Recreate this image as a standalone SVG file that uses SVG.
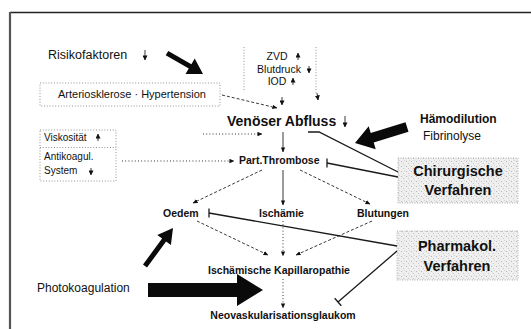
<svg xmlns="http://www.w3.org/2000/svg" width="531" height="329" viewBox="0 0 531 329">
<style>
text{font-family:"Liberation Sans",Arial,sans-serif;fill:#111}
.s10{font-size:10px}.s105{font-size:10.5px}.s11{font-size:11px}.s12{font-size:12px}
.lab{font-size:10.5px;font-weight:bold}
.big{font-size:14.5px;font-weight:bold;text-anchor:middle}
.c{text-anchor:middle}
.ln{stroke:#222;stroke-width:0.9;fill:none}
.dash{stroke-dasharray:3,2}
.dot{stroke-dasharray:1,2.2}
.inh{stroke:#1a1a1a;stroke-width:1.3;fill:none}
.box{fill:none;stroke:#777;stroke-width:0.8;stroke-dasharray:1,1.8}
.thick{fill:#0a0a0a}
.grey{fill:url(#stip);stroke:#999;stroke-width:0.8;stroke-dasharray:1,1.5}
</style>
<defs>
<marker id="ah" viewBox="0 0 6 6" refX="5.5" refY="3" markerWidth="5" markerHeight="5" markerUnits="userSpaceOnUse" orient="auto"><path d="M0,0.4 L6,3 L0,5.6 z" fill="#111"/></marker>
<marker id="ahs" viewBox="0 0 6 6" refX="5.5" refY="3" markerWidth="5" markerHeight="5" markerUnits="userSpaceOnUse" orient="auto"><path d="M0,0 L6,3 L0,6 z" fill="#111"/></marker>
<pattern id="stip" width="5" height="5" patternUnits="userSpaceOnUse"><rect width="5" height="5" fill="#efefef"/><rect x="1" y="1" width="1" height="1" fill="#b8b8b8"/><rect x="3" y="3" width="1" height="1" fill="#c8c8c8"/><rect x="4" y="0" width="1" height="1" fill="#d4d4d4"/></pattern>
</defs>
<rect width="531" height="329" fill="#fff"/>
<!-- frame -->
<line x1="10" y1="12.5" x2="531" y2="12.5" stroke="#222" stroke-width="1.5"/>
<line x1="10" y1="12" x2="10" y2="329" stroke="#555" stroke-width="2.2"/>

<g id="risikofaktoren">
<text x="48" y="59" style="font-size:12.5px">Risikofaktoren</text>
<line class="ln" x1="145" y1="50" x2="145" y2="60" marker-end="url(#ahs)"/>
<polygon class="thick" points="168.3,50.9 191.4,64.2 194.7,58.6 203,74 185.5,74 188.8,68.5 165.7,55.2"/>
</g>

<g id="zvd">
<line class="box" x1="244" y1="47" x2="244" y2="92"/>
<text class="s105 c" x="277" y="60">ZVD</text>
<line class="ln" x1="298" y1="60" x2="298" y2="53" marker-end="url(#ahs)"/>
<text class="s105 c" x="279" y="73">Blutdruck</text>
<line class="ln" x1="309" y1="66" x2="309" y2="73" marker-end="url(#ahs)"/>
<text class="s105 c" x="277" y="85">IOD</text>
<line class="ln" x1="293" y1="85" x2="293" y2="78" marker-end="url(#ahs)"/>
</g>

<g id="arteriosklerose">
<rect class="box" x="40" y="83" width="180" height="23"/>
<text class="s11" x="58" y="98">Arteriosklerose · Hypertension</text>
</g>

<g id="venoeser-abfluss">
<text x="227" y="126" style="font-size:14px;font-weight:bold">Venöser Abfluss</text>
<line class="ln" x1="345" y1="116" x2="345" y2="127" marker-end="url(#ahs)"/>
</g>

<g id="haemodilution">
<text x="420" y="123" style="font-size:12px;font-weight:bold">Hämodilution</text>
<text class="s12" x="423" y="140">Fibrinolyse</text>
<polygon class="thick" points="405.5,122.2 370.7,132.9 368.7,126.2 355,143 375.7,149.2 373.7,142.5 408.5,131.8"/>
</g>

<g id="viskositaet">
<rect class="box" x="40" y="130" width="76" height="51"/>
<line class="box" x1="40" y1="147.5" x2="116" y2="147.5"/>
<text class="s10" x="44" y="141">Viskosität</text>
<line class="ln" x1="98" y1="141" x2="98" y2="134" marker-end="url(#ahs)"/>
<text class="s10" x="44" y="160">Antikoagul.</text>
<text class="s10" x="44" y="174">System</text>
<line class="ln" x1="91" y1="168" x2="91" y2="175" marker-end="url(#ahs)"/>
</g>

<g id="part-thrombose">
<text class="lab" x="239" y="164">Part.Thrombose</text>
</g>

<g id="chirurgische-verfahren">
<rect class="grey" x="398" y="158" width="120" height="45"/>
<text class="big" x="458" y="176">Chirurgische</text>
<text class="big" x="458" y="195">Verfahren</text>
</g>

<g id="oedem"><text class="lab" x="163" y="217">Oedem</text></g>
<g id="ischaemie"><text class="lab" x="259" y="217">Ischämie</text></g>
<g id="blutungen"><text class="lab" x="357" y="217">Blutungen</text></g>

<g id="pharmakol-verfahren">
<rect class="grey" x="397" y="231" width="121" height="49"/>
<text class="big" x="457" y="251">Pharmakol.</text>
<text class="big" x="457" y="271">Verfahren</text>
</g>

<g id="kapillaropathie"><text class="lab c" x="279" y="274">Ischämische Kapillaropathie</text></g>

<g id="photokoagulation">
<text class="s12" x="37" y="292">Photokoagulation</text>
<polygon class="thick" points="148,283 237,283 237,274 263,290 237,306 237,297 148,297"/>
<polygon class="thick" points="143,264.5 162.1,238.6 157.3,235.1 173,228 170.9,245.1 166.1,241.6 147,267.5"/>
</g>

<g id="neovaskularisationsglaukom"><text class="lab c" x="283" y="319">Neovaskularisationsglaukom</text></g>

<g id="connectors">
<line class="box" x1="316" y1="47" x2="316" y2="93"/>
<line class="ln" x1="317" y1="93" x2="318" y2="100" marker-end="url(#ahs)"/>
<line class="ln" x1="282" y1="97" x2="282" y2="105" marker-end="url(#ahs)"/>
<line class="ln dash" x1="222" y1="95" x2="277" y2="108" marker-end="url(#ah)"/>
<line class="ln dot" x1="203" y1="134" x2="262" y2="134" marker-end="url(#ah)"/>
<line class="ln dot" x1="122" y1="161" x2="234" y2="161" marker-end="url(#ah)"/>
<line class="ln" x1="283" y1="132" x2="283" y2="152" marker-end="url(#ah)"/>
<line class="ln dash" x1="262" y1="170" x2="193" y2="203" marker-end="url(#ah)"/>
<line class="ln" x1="283" y1="170" x2="283" y2="205" marker-end="url(#ah)"/>
<line class="ln dash" x1="300" y1="170" x2="370" y2="204" marker-end="url(#ah)"/>
<line class="ln dash" x1="197" y1="221" x2="268" y2="255" marker-end="url(#ah)"/>
<line class="ln dot" x1="283" y1="221" x2="283" y2="256" marker-end="url(#ah)"/>
<line class="ln dash" x1="372" y1="221" x2="296" y2="255" marker-end="url(#ah)"/>
<line class="ln dot" x1="283" y1="279" x2="283" y2="308" marker-end="url(#ah)"/>
<polyline class="inh" points="398,172 319,132 308,132"/>
<line class="inh" x1="398" y1="177" x2="327" y2="163"/>
<line class="inh" x1="327" y1="158.5" x2="327" y2="167.5"/>
<line class="inh" x1="397" y1="246" x2="209" y2="213"/>
<line class="inh" x1="209" y1="208.5" x2="209" y2="217.5"/>
<line class="inh" x1="397" y1="251" x2="338" y2="302"/>
<line class="inh" x1="334.7" y1="298.2" x2="341.3" y2="305.8"/>
</g>
</svg>
